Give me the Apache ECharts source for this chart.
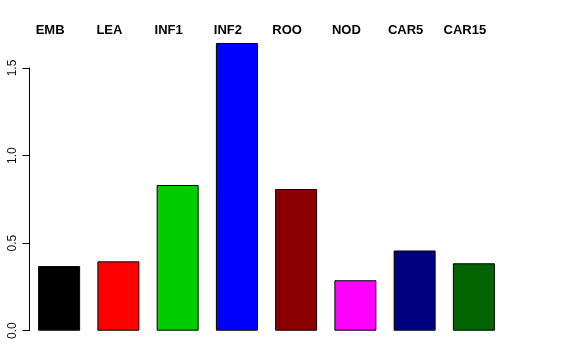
<!DOCTYPE html>
<html>
<head>
<meta charset="utf-8">
<script src="https://cdn.jsdelivr.net/npm/echarts@6/dist/echarts.min.js"></script>
<style>
html,body{margin:0;padding:0;background:#fff;}
#chart{width:576px;height:360px;}
</style>
</head>
<body>
<div id="chart"></div>
<script>
var categories = ['EMB', 'LEA', 'INF1', 'INF2', 'ROO', 'NOD', 'CAR5', 'CAR15'];
var values = [0.369, 0.396, 0.832, 1.643, 0.809, 0.288, 0.458, 0.385];
var barColors = ['#000000', '#FF0000', '#00CD00', '#0000FF', '#8B0000', '#FF00FF', '#000080', '#006400'];
var yTicks = [0, 0.5, 1.0, 1.5];

var chart = echarts.init(document.getElementById('chart'), null, {renderer: 'canvas'});
var fontFam = '"Liberation Sans", Arial, Helvetica, sans-serif';
chart.setOption({
  animation: false,
  backgroundColor: '#ffffff',
  grid: {left: 29.5, right: 72.5, top: 68, bottom: 29.3, containLabel: false},
  xAxis: [
    {type: 'category', data: categories, position: 'bottom', show: false},
    {type: 'category', data: categories, position: 'top',
     axisLine: {show: false}, axisTick: {show: false},
     axisLabel: {show: true, margin: 31, fontFamily: fontFam, fontWeight: 'bold', fontSize: 13, color: '#000',
                 align: 'center', padding: [0, 18, 0, 0]}}
  ],
  yAxis: {
    type: 'value', min: yTicks[0], max: yTicks[yTicks.length - 1], interval: 0.5,
    splitLine: {show: false},
    axisLine: {show: true, lineStyle: {color: '#000', width: 1}},
    axisTick: {show: true, length: 7, lineStyle: {color: '#000'}},
    axisLabel: {rotate: 90, margin: 11, fontFamily: fontFam, fontSize: 12, color: '#111',
                formatter: function (v) { return v.toFixed(1); }}
  },
  series: [{
    type: 'bar',
    xAxisIndex: 0,
    clip: false,
    barWidth: 42,
    data: values.map(function (v, i) {
      return {value: v, itemStyle: {color: barColors[i], borderColor: '#000', borderWidth: 1}};
    })
  }]
});
</script>
</body>
</html>
